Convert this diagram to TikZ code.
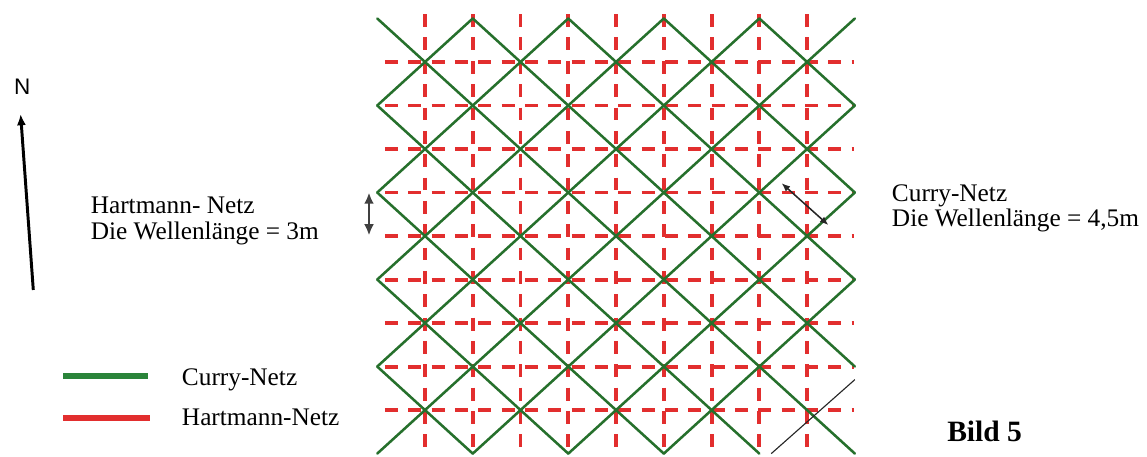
\documentclass[tikz,border=0pt]{standalone}
\usepackage{fontspec}
\setmainfont{Liberation Serif}
\newfontfamily\nsans{Liberation Sans}
\usetikzlibrary{arrows.meta}
\definecolor{cgreen}{RGB}{38,112,44}
\definecolor{cred}{RGB}{226,46,46}
\definecolor{cgreenleg}{RGB}{42,132,58}
\begin{document}
\begin{tikzpicture}[x=0.025cm,y=-0.025cm,
  txt/.style={inner sep=0pt, font=\fontsize{18}{18.5}\selectfont},
  rdash/.style={cred, line width=2.8pt, dash pattern=on 9.2pt off 7.4pt},
  gline/.style={cgreen, line width=1.8pt, line cap=round},
  legline/.style={line width=3.6pt}]
\useasboundingbox (0,0) rectangle (1147,457);
% lattice
\begin{scope}[shift={(425,62)}, x=1.19375cm, y=-1.0875cm]
  \foreach \i in {0,...,8} \draw[rdash] (\i,-1.1) -- (\i,9.08);
  \foreach \j in {0,...,8} \draw[rdash] (-0.84,\j) -- (8.98,\j);
  % down-right lines
  \foreach \a/\b/\c/\d in {-1/-1/9/9, 1/-1/9/7, 3/-1/9/5, 5/-1/9/3, 7/-1/9/1,
      -1/1/7/9, -1/3/5/9, -1/5/3/9, -1/7/1/9}
    \draw[gline] (\a,\b) -- (\c,\d);
  % up-right lines
  \foreach \a/\b/\c/\d in {-1/1/1/-1, -1/3/3/-1, -1/5/5/-1, -1/7/7/-1, -1/9/9/-1,
      1/9/9/1, 3/9/9/3, 5/9/9/5}
    \draw[gline] (\a,\b) -- (\c,\d);
  \coordinate (bl1) at (7.25,9);
  \coordinate (bl2) at (9,7.3);
  \draw[black!85, line width=0.8pt] (bl1) -- (bl2);
\end{scope}
% north arrow
\coordinate (ntail) at (33.3,290);
\coordinate (ntip) at (20.6,114);
\draw[black, line width=2.1pt, -{Latex[length=8pt,width=6.5pt]}] (ntail) -- (ntip);
\node[inner sep=0pt, anchor=base, font=\nsans\fontsize{16}{16}\selectfont] (N) at (22.2,95) {N};
% left text and arrow
\node[txt, anchor=base west] (h1) at (90.5,214) {Hartmann- Netz};
\node[txt, anchor=base west] (h2) at (90.5,240) {Die Wellenlänge = 3m};
\coordinate (la1) at (369,192.5);
\coordinate (la2) at (369,235.5);
\draw[black!75, line width=1.7pt, {Latex[length=8pt,width=7pt]}-{Latex[length=8pt,width=7pt]}] (la1) -- (la2);
% right text and arrow
\node[txt, anchor=base west] (c1) at (891.7,202) {Curry-Netz};
\node[txt, anchor=base west] (c2) at (891.7,227) {Die Wellenlänge = 4,5m};
\coordinate (ra1) at (781.7,183.3);
\coordinate (ra2) at (828.3,225);
\draw[black!85, line width=1.1pt, {Latex[length=6pt,width=5pt]}-{Latex[length=6pt,width=5pt]}] (ra1) -- (ra2);
% legend
\draw[legline, cgreenleg] (63,376) -- (148,376);
\draw[legline, cred] (63,418) -- (150,418);
\node[txt, anchor=base west] (lc) at (181.7,386) {Curry-Netz};
\node[txt, anchor=base west] (lh) at (181.7,426) {Hartmann-Netz};
% caption
\node[inner sep=0pt, anchor=base west, font=\bfseries\fontsize{21}{21}\selectfont] (bild) at (947,441.5) {Bild 5};
\end{tikzpicture}
\end{document}
